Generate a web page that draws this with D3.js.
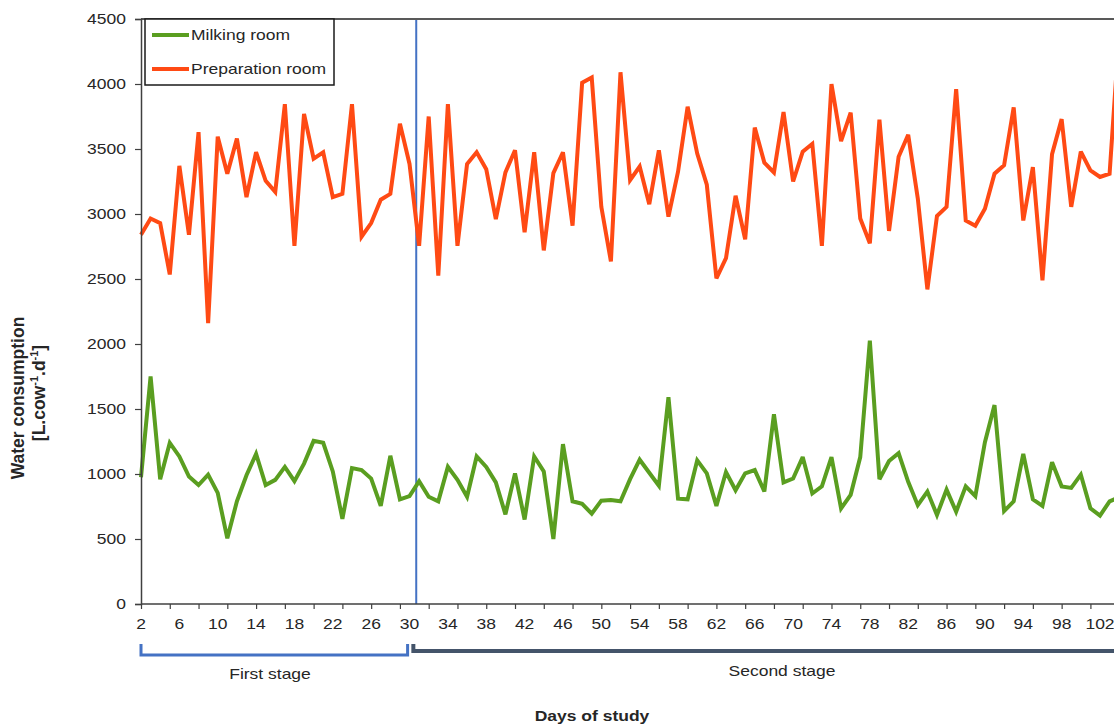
<!DOCTYPE html>
<html>
<head>
<meta charset="utf-8">
<script src="https://cdn.jsdelivr.net/npm/d3@7/dist/d3.min.js"></script>
<style>
  html, body { margin: 0; padding: 0; background: #ffffff; }
  svg { display: block; }
  text { font-family: "Liberation Sans", Arial, sans-serif; fill: #262626; }
</style>
</head>
<body>
<svg id="chart" width="1114" height="724"></svg>
<script>
// ---------------- data ----------------
const firstDay = 2;
const seriesNames = ["Milking room", "Preparation room"];
const seriesColors = ["#5a9e20", "#ff4a14"];

// Milking room, daily values from day 2 to day 104
const milkingRoom = [
  975, 1750, 960, 1240, 1135, 980, 915, 995, 855, 505,
  790, 990, 1155, 915, 955, 1055, 945, 1080, 1255, 1240,
  1020, 655, 1045, 1030, 965, 755, 1140, 805, 830, 945,
  825, 790, 1055, 955, 825, 1135, 1055, 935, 690, 1005,
  650, 1135, 1020, 500, 1230, 790, 770, 695, 795, 800,
  790, 960, 1110, 1010, 910, 1590, 810, 805, 1105, 1005,
  755, 1015, 875, 1005, 1030, 865, 1460, 935, 965, 1130,
  850, 905, 1130, 735, 840, 1130, 2025, 960, 1100, 1160,
  940, 760, 865, 685, 880, 710, 905, 830, 1245, 1530,
  715, 790, 1155, 805, 755, 1090, 905, 893, 995, 736,
  680, 790, 820
];

// Preparation room, daily values from day 2 to day 104
const preparationRoom = [
  2840, 2965, 2930, 2535, 3370, 2840, 3630, 2160, 3595, 3310,
  3580, 3130, 3475, 3255, 3170, 3845, 2755, 3770, 3425, 3475,
  3130, 3155, 3845, 2825, 2930, 3110, 3155, 3695, 3385, 2755,
  3750, 2525, 3845, 2755, 3385, 3475, 3345, 2960, 3320, 3490,
  2860, 3475, 2720, 3315, 3475, 2910, 4010, 4050, 3055, 2635,
  4090, 3260, 3365, 3075, 3490, 2980, 3325, 3825, 3465, 3225,
  2505, 2660, 3140, 2805, 3665, 3395, 3320, 3785, 3250, 3480,
  3540, 2755, 4000, 3560, 3780, 2965, 2775, 3725, 2870, 3440,
  3610, 3120, 2420, 2985, 3055, 3960, 2950, 2910, 3040, 3310,
  3375, 3820, 2950, 3360, 2490, 3460, 3730, 3055, 3480, 3335,
  3285, 3310, 4400
];

const yTicks = [0, 500, 1000, 1500, 2000, 2500, 3000, 3500, 4000, 4500];
const xLabelDays = [2, 6, 10, 14, 18, 22, 26, 30, 34, 38, 42, 46, 50, 54, 58, 62, 66, 70, 74, 78, 82, 86, 90, 94, 98, 102];
const xTickDays = [2, 5, 8, 11, 14, 17, 20, 23, 26, 29, 32, 35, 38, 41, 44, 47, 50, 53, 56, 59, 62, 65, 68, 71, 74, 77, 80, 83, 86, 89, 92, 95, 98, 101, 104];
const stageBoundary = 30.7;
const stages = [
  { name: "First stage", from: 2, to: 29.8 },
  { name: "Second stage", from: 30.4, to: 110 }
];

(function () {
// ---------------- layout ----------------
const W = 1114, H = 724;
const pLeft = 141, pTop = 19, pBottom = 604;
const pxPerDay = 9.59;
const lastDay = firstDay + preparationRoom.length - 1;

const svg = d3.select("#chart");
svg.append("rect").attr("width", W).attr("height", H).attr("fill", "#ffffff");

const x = d3.scaleLinear().domain([firstDay, lastDay]).range([pLeft, pLeft + (lastDay - firstDay) * pxPerDay]);
const y = d3.scaleLinear().domain([0, 4500]).range([pBottom, pTop]);

const SX = 1.25; // horizontal stretch of the reference's text
function stext(g, px, py, str, anchor, size, weight) {
  return g.append("text")
    .attr("transform", `translate(${px},${py}) scale(${SX},1)`)
    .attr("text-anchor", anchor)
    .attr("font-size", size)
    .attr("font-weight", weight || "normal")
    .text(str);
}

// stage divider
svg.append("line")
  .attr("x1", x(stageBoundary)).attr("x2", x(stageBoundary))
  .attr("y1", pTop).attr("y2", pBottom)
  .attr("stroke", "#4472c4").attr("stroke-width", 2);

// series lines
const series = [milkingRoom, preparationRoom];
const line = d3.line().x((d, i) => x(firstDay + i)).y(d => y(d));
series.forEach((vals, k) => {
  svg.append("path")
    .datum(vals)
    .attr("d", line)
    .attr("fill", "none")
    .attr("stroke", seriesColors[k])
    .attr("stroke-width", 4)
    .attr("stroke-linejoin", "miter")
    .attr("stroke-miterlimit", 3);
});

// top frame line
svg.append("line")
  .attr("x1", pLeft).attr("x2", W + 5)
  .attr("y1", pTop).attr("y2", pTop)
  .attr("stroke", "#595959").attr("stroke-width", 2);

// y axis
const yAxis = svg.append("g").attr("transform", `translate(${pLeft},0)`)
  .call(d3.axisLeft(y).tickValues(yTicks).tickSize(6).tickFormat(""));
yAxis.select(".domain").attr("stroke", "#404040").attr("stroke-width", 1.5);
yAxis.selectAll(".tick line").attr("stroke", "#404040").attr("stroke-width", 1.2);
yTicks.forEach(v => {
  stext(svg, 126, y(v) + 5, d3.format("d")(v), "end", 14);
});

// x axis
const xAxis = svg.append("g").attr("transform", `translate(0,${pBottom})`)
  .call(d3.axisBottom(x).tickValues(xTickDays).tickSize(5).tickSizeOuter(0).tickFormat(""));
xAxis.select(".domain").attr("stroke", "#404040").attr("stroke-width", 1.5)
  .attr("d", `M${pLeft},0H${W + 5}`);
xAxis.selectAll(".tick line").attr("stroke", "#404040").attr("stroke-width", 1.2);
xLabelDays.forEach(d => {
  stext(svg, x(d), 629, String(d), "middle", 14);
});

// stage brackets
svg.append("path")
  .attr("d", `M${x(stages[0].from)},644V655H${x(stages[0].to)}V644`)
  .attr("fill", "none").attr("stroke", "#4472c4").attr("stroke-width", 3);
svg.append("path")
  .attr("d", `M${x(stages[1].from)},644V651H${x(stages[1].to)}`)
  .attr("fill", "none").attr("stroke", "#44546a").attr("stroke-width", 4);
stext(svg, 270, 679, stages[0].name, "middle", 14);
stext(svg, 782, 676, stages[1].name, "middle", 14);

// axis titles
stext(svg, 592, 721, "Days of study", "middle", 14, "bold");
const yt = svg.append("g").attr("transform", "translate(18,398) rotate(-90)");
yt.append("text").attr("text-anchor", "middle").attr("dy", "0.35em")
  .attr("font-size", 17.5).attr("font-weight", "bold").text("Water consumption");
const yt2 = svg.append("g").attr("transform", "translate(39,393) rotate(-90)");
const t2 = yt2.append("text").attr("text-anchor", "middle").attr("dy", "0.35em")
  .attr("font-size", 17.5).attr("font-weight", "bold");
t2.append("tspan").text("[L.cow");
t2.append("tspan").attr("font-size", 11).attr("dy", -7).text("-1");
t2.append("tspan").attr("dy", 7).text(".d");
t2.append("tspan").attr("font-size", 11).attr("dy", -7).text("-1");
t2.append("tspan").attr("dy", 7).text("]");

// legend
const lg = svg.append("g");
lg.append("rect").attr("x", 145).attr("y", 19).attr("width", 189).attr("height", 66)
  .attr("fill", "#ffffff").attr("stroke", "#1a1a1a").attr("stroke-width", 1.5);
seriesNames.forEach((name, k) => {
  const cy = 35 + k * 34;
  lg.append("line").attr("x1", 152).attr("x2", 189).attr("y1", cy).attr("y2", cy)
    .attr("stroke", seriesColors[k]).attr("stroke-width", 4);
  stext(lg, 191, cy + 5, name, "start", 14);
});
})();
</script>
</body>
</html>
